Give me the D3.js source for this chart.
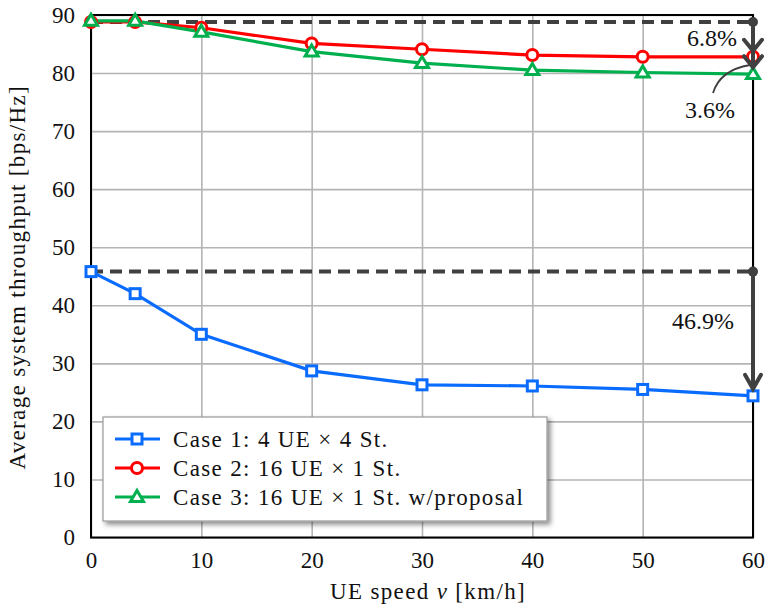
<!DOCTYPE html>
<html>
<head>
<meta charset="utf-8">
<script src="https://cdn.jsdelivr.net/npm/d3@7"></script>
<style>
  html, body { margin: 0; padding: 0; background: #fff; }
  svg { display: block; }
  text { font-family: "Liberation Serif", "Times New Roman", serif; fill: #111; }
  .words { letter-spacing: 1.35px; }
</style>
</head>
<body>
<svg id="chart" width="773" height="612"></svg>
<script>
// ---------- data ----------
const speeds = [0, 4, 10, 20, 30, 40, 50, 60];
const case1 = [45.8, 42.0, 35.0, 28.7, 26.3, 26.1, 25.5, 24.4];
const case2 = [88.8, 88.8, 87.8, 85.1, 84.1, 83.1, 82.8, 82.8];
const case3 = [89.0, 89.0, 87.1, 83.7, 81.7, 80.5, 80.1, 79.8];
const seriesNames = ["Case 1: 4 UE \u00d7 4 St.", "Case 2: 16 UE \u00d7 1 St.", "Case 3: 16 UE \u00d7 1 St. w/proposal"];
const xTicks = [0, 10, 20, 30, 40, 50, 60];
const yTicks = [0, 10, 20, 30, 40, 50, 60, 70, 80, 90];
const pctLabels = ["6.8%", "3.6%", "46.9%"];

// ---------- layout ----------
const svg = d3.select("#chart");
const FONT = '"Liberation Serif", "Times New Roman", serif';
const L = 91, R = 753, T = 15, B = 537.5;
const x = d3.scaleLinear().domain([0, 60]).range([L, R]);
const y = d3.scaleLinear().domain([0, 90]).range([B, T]);
const colors = ["#0a6cff", "#ff0000", "#00b04f"];
const data = [case1, case2, case3];

// grid
const gx = svg.append("g").attr("transform", `translate(0,${B})`)
  .call(d3.axisBottom(x).tickValues(xTicks).tickSize(-(B - T)).tickFormat(""));
const gy = svg.append("g").attr("transform", `translate(${L},0)`)
  .call(d3.axisLeft(y).tickValues(yTicks).tickSize(-(R - L)).tickFormat(""));
[gx, gy].forEach(g => {
  g.select(".domain").remove();
  g.selectAll(".tick line").attr("stroke", "#b4b4b4").attr("stroke-width", 1.6);
});

// frame
svg.append("rect").attr("x", L).attr("y", T).attr("width", R - L).attr("height", B - T)
  .attr("fill", "none").attr("stroke", "#000").attr("stroke-width", 2);

// tick labels
const xl = svg.append("g").attr("transform", `translate(0,${B})`)
  .call(d3.axisBottom(x).tickValues(xTicks).tickSize(0).tickPadding(14));
xl.select(".domain").remove();
xl.selectAll("text").attr("font-size", 23).attr("fill", "#111").attr("font-family", FONT);
const yl = svg.append("g").attr("transform", `translate(${L},0)`)
  .call(d3.axisLeft(y).tickValues(yTicks).tickSize(0).tickPadding(16));
yl.select(".domain").remove();
yl.selectAll("text").attr("font-size", 23).attr("fill", "#111").attr("font-family", FONT);

// axis titles
const xt = svg.append("text").attr("class", "words").attr("x", 428).attr("y", 599)
  .attr("text-anchor", "middle").attr("font-size", 23);
xt.append("tspan").text("UE speed  ");
xt.append("tspan").attr("font-style", "italic").text("v");
xt.append("tspan").text(" [km/h]");
svg.append("text").attr("class", "words").attr("transform", `translate(25,${(T + B) / 2 + 1}) rotate(-90)`)
  .attr("text-anchor", "middle").attr("font-size", 23).text("Average system throughput [bps/Hz]");

// annotation dashed lines
const dark = "#404040";
const refTop = case2[0], refBot = case1[0];
[refTop, refBot].forEach(v => {
  svg.append("line").attr("x1", x(0)).attr("x2", x(60)).attr("y1", y(v)).attr("y2", y(v))
    .attr("stroke", dark).attr("stroke-width", 4).attr("stroke-dasharray", "12,7");
});

// series lines
const line = d3.line().x((d, i) => x(speeds[i])).y(d => y(d));
data.forEach((s, k) => {
  svg.append("path").datum(s).attr("d", line).attr("fill", "none")
    .attr("stroke", colors[k]).attr("stroke-width", 3.2);
});

// markers
function marker(g, k, cx, cy) {
  if (k === 0) {
    g.append("rect").attr("x", cx - 5).attr("y", cy - 5).attr("width", 10).attr("height", 10)
      .attr("fill", "#fff").attr("stroke", colors[0]).attr("stroke-width", 3);
  } else if (k === 1) {
    g.append("circle").attr("cx", cx).attr("cy", cy).attr("r", 5.5)
      .attr("fill", "#fff").attr("stroke", colors[1]).attr("stroke-width", 3);
  } else {
    const h = 11, w = 13;
    g.append("path").attr("d", `M${cx},${cy - h * 0.6}L${cx + w / 2},${cy + h * 0.4}L${cx - w / 2},${cy + h * 0.4}Z`)
      .attr("fill", "#fff").attr("stroke", colors[2]).attr("stroke-width", 3).attr("stroke-linejoin", "miter");
  }
}
const mg = svg.append("g");
data.forEach((s, k) => s.forEach((v, i) => marker(mg, k, x(speeds[i]), y(v))));

// arrows
function chevron(tx, ty, hw, hh) {
  svg.append("path").attr("d", `M${tx - hw},${ty - hh}L${tx},${ty}L${tx + hw},${ty - hh}`)
    .attr("fill", "none").attr("stroke", dark).attr("stroke-width", 4).attr("stroke-linecap", "round");
}
const ax = x(60);
svg.append("circle").attr("cx", ax).attr("cy", y(refTop)).attr("r", 5).attr("fill", dark);
svg.append("line").attr("x1", ax).attr("x2", ax).attr("y1", y(refTop)).attr("y2", y(case3[7]) - 7)
  .attr("stroke", dark).attr("stroke-width", 4);
chevron(ax, y(case2[7]) - 6, 9, 11);
chevron(ax, y(case3[7]) - 7, 9, 11);
svg.append("circle").attr("cx", ax).attr("cy", y(refBot)).attr("r", 5).attr("fill", dark);
svg.append("line").attr("x1", ax).attr("x2", ax).attr("y1", y(refBot)).attr("y2", y(case1[7]) - 7)
  .attr("stroke", dark).attr("stroke-width", 4);
chevron(ax, y(case1[7]) - 7, 8, 14);

// curved leader
svg.append("path").attr("d", `M713,93 Q720,70 750,65`).attr("fill", "none")
  .attr("stroke", dark).attr("stroke-width", 1.8);

// pct labels
svg.append("text").attr("x", 687).attr("y", 46).attr("font-size", 24).text(pctLabels[0]);
svg.append("text").attr("x", 685).attr("y", 118).attr("font-size", 24).text(pctLabels[1]);
svg.append("text").attr("x", 672).attr("y", 329).attr("font-size", 24).text(pctLabels[2]);

// legend
const defs = svg.append("defs");
const f = defs.append("filter").attr("id", "shadow").attr("x", "-10%").attr("y", "-10%").attr("width", "130%").attr("height", "140%");
f.append("feDropShadow").attr("dx", 3).attr("dy", 3).attr("stdDeviation", 2.5).attr("flood-color", "#000").attr("flood-opacity", 0.45);
const lg = svg.append("g");
lg.append("rect").attr("x", 103).attr("y", 417).attr("width", 444).attr("height", 104)
  .attr("fill", "#fff").attr("stroke", "#999").attr("stroke-width", 1.2).attr("filter", "url(#shadow)");
const rowsY = [439, 468, 497];
seriesNames.forEach((name, k) => {
  const ry = rowsY[k];
  lg.append("line").attr("x1", 115).attr("x2", 160).attr("y1", ry).attr("y2", ry)
    .attr("stroke", colors[k]).attr("stroke-width", 3.2);
  marker(lg, k, 137, ry);
  lg.append("text").attr("class", "words").attr("x", 173).attr("y", ry + 8).attr("font-size", 23).text(name);
});
</script>
</body>
</html>
